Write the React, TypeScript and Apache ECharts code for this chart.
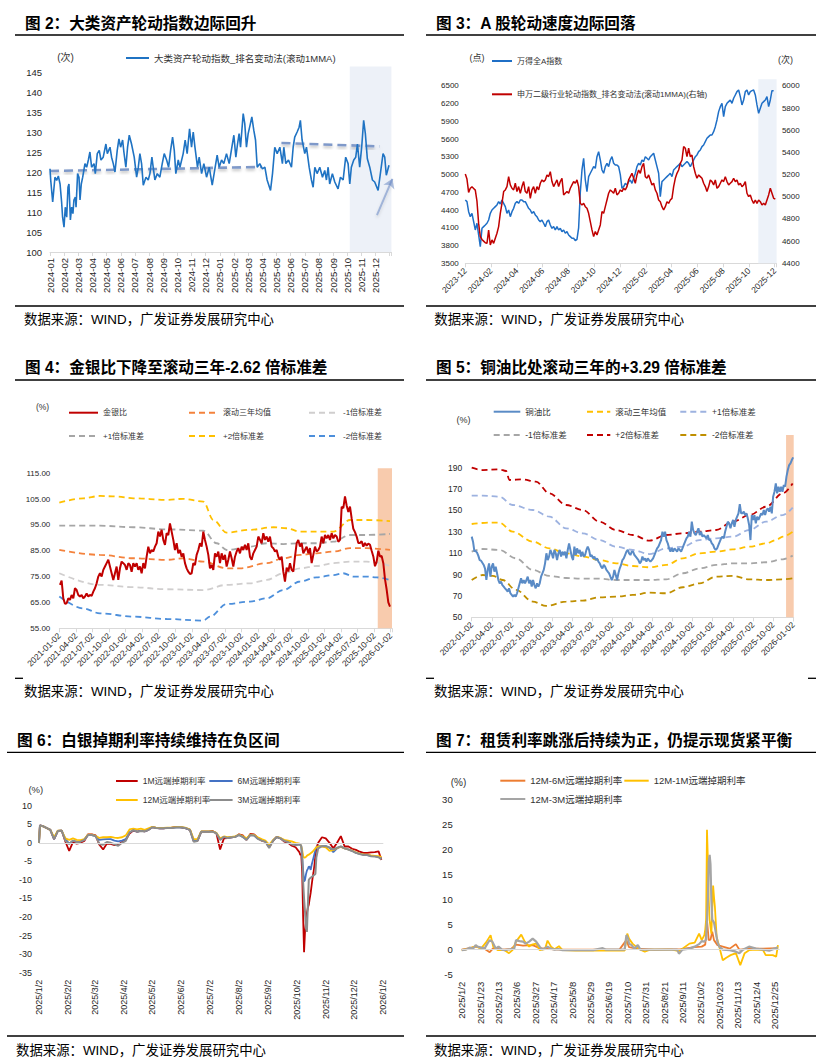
import React, { useEffect, useRef } from 'react';
import * as echarts from 'echarts';

const FONT = "'Liberation Sans', 'Noto Sans CJK SC', sans-serif";

// ---------------- 图2 大类资产轮动指数 ----------------
const P1_LABELS = ['2024-01','2024-02','2024-03','2024-04','2024-05','2024-06','2024-07','2024-08','2024-09','2024-10','2024-11','2024-12','2025-01','2025-02','2025-03','2025-04','2025-05','2025-06','2025-07','2025-08','2025-09','2025-10','2025-11','2025-12'];
const P1_NAME = '大类资产轮动指数_排名变动法(滚动1MMA)';
// [month index since 2024-01, value]
const P1_INDEX = [[0.00,120.8],[0.05,118.0],[0.19,112.5],[0.35,118.7],[0.47,117.9],[0.59,119.0],[0.71,117.0],[0.82,112.5],[0.89,108.7],[0.99,106.2],[1.08,111.2],[1.18,108.7],[1.27,116.2],[1.34,117.0],[1.44,108.0],[1.53,111.2],[1.62,109.6],[1.69,113.0],[1.79,113.7],[1.84,111.2],[1.95,119.6],[2.05,118.7],[2.12,113.0],[2.21,117.0],[2.31,118.7],[2.47,122.1],[2.59,121.2],[2.71,123.0],[2.82,125.0],[2.94,121.2],[3.11,122.1],[3.20,119.6],[3.34,124.6],[3.48,125.4],[3.60,123.0],[3.76,123.7],[3.95,127.0],[4.05,124.6],[4.24,126.2],[4.35,123.7],[4.47,122.1],[4.59,120.0],[4.75,125.4],[4.87,128.3],[4.99,126.2],[5.13,128.0],[5.22,125.0],[5.36,121.2],[5.48,126.2],[5.60,129.2],[5.76,127.0],[5.95,123.7],[6.12,118.7],[6.24,121.2],[6.35,124.6],[6.47,122.1],[6.59,116.7],[6.78,118.7],[6.94,118.0],[7.06,119.6],[7.20,123.7],[7.29,121.2],[7.41,118.0],[7.58,119.6],[7.76,118.7],[7.93,122.1],[8.07,124.6],[8.24,123.0],[8.38,121.2],[8.52,125.4],[8.66,128.7],[8.78,125.4],[8.89,119.6],[9.06,123.0],[9.18,121.2],[9.41,124.6],[9.55,128.0],[9.69,124.6],[9.86,130.8],[10.00,126.2],[10.12,130.0],[10.24,126.2],[10.42,121.2],[10.54,123.7],[10.71,119.6],[10.87,122.1],[11.06,118.7],[11.25,121.2],[11.46,116.7],[11.65,120.8],[11.81,124.2],[11.95,121.2],[12.12,123.0],[12.28,122.1],[12.47,124.6],[12.66,122.1],[12.85,126.2],[12.99,129.2],[13.13,123.7],[13.25,127.0],[13.36,129.6],[13.46,126.2],[13.65,134.6],[13.76,132.1],[13.88,126.2],[14.00,129.6],[14.16,132.1],[14.26,133.8],[14.40,130.4],[14.52,128.0],[14.64,121.2],[14.82,122.1],[15.01,120.8],[15.18,121.2],[15.34,118.0],[15.58,115.4],[15.72,119.6],[15.88,126.2],[16.05,124.6],[16.24,126.2],[16.42,122.1],[16.52,126.2],[16.66,122.1],[16.85,123.0],[17.06,121.2],[17.18,126.2],[17.29,128.7],[17.46,130.0],[17.60,131.2],[17.69,132.9],[17.81,128.0],[18.00,124.6],[18.12,126.2],[18.31,121.2],[18.47,118.0],[18.59,116.2],[18.71,121.2],[18.87,119.6],[19.06,121.2],[19.25,118.7],[19.41,120.4],[19.53,118.0],[19.65,121.2],[19.76,117.0],[19.95,119.6],[20.12,117.5],[20.35,115.8],[20.52,118.7],[20.71,118.0],[20.89,123.7],[21.06,122.1],[21.18,117.0],[21.29,121.2],[21.46,123.0],[21.60,123.7],[21.72,127.0],[21.88,121.2],[22.02,126.2],[22.16,132.9],[22.28,129.6],[22.42,123.3],[22.59,121.2],[22.78,118.0],[22.94,117.5],[23.18,115.4],[23.34,119.6],[23.53,124.6],[23.65,123.7],[23.76,119.2],[23.95,121.7]];
const P1_TREND_EARLY = [[0, 120.25], [14.94, 121.25]];
const P1_TREND_LATE = [[16.35, 127.25], [23.29, 126.4]];
const P1_ARROW = [[23.1, 109.2], [24.19, 118.3]];
const P1_HIGHLIGHT = [21.18, 24.12];

// ---------------- 图3 A股轮动速度 ----------------
const P2_LABELS = ['2023-12','2024-02','2024-04','2024-06','2024-08','2024-10','2024-12','2025-02','2025-04','2025-06','2025-08','2025-10','2025-12'];
const P2_STEP = 0.1293; // months between samples (about 4 days)
const P2_WIND_NAME = '万得全A指数';
const P2_ROT_NAME = '申万二级行业轮动指数_排名变动法(滚动1MMA)(右轴)';
const P2_WIND = [4571,4543,4374,4289,4346,4205,4064,4177,3979,3782,4092,4120,4148,4177,4233,4346,4402,4430,4459,4487,4543,4504,4571,4515,4459,4346,4402,4289,4374,4430,4515,4543,4515,4571,4571,4543,4543,4487,4430,4402,4346,4374,4318,4289,4233,4205,4233,4177,4120,4205,4233,4148,4092,4120,4064,4120,4064,4092,4036,4064,4008,4036,3979,3951,3923,3923,3883,3906,4100,4700,5079,5276,4910,4712,4966,5023,5079,5136,5107,5304,5389,5248,5079,5023,5136,5192,5136,5248,5304,5192,5164,5164,5136,5000,4769,4797,4853,4825,4882,4910,4853,4938,5023,5136,5192,5164,5248,5220,5304,5276,5248,5304,5333,5361,5248,5136,5023,4628,4882,4910,4938,4966,4994,5023,4966,5079,5107,5136,5164,5192,5136,5164,5192,5220,5192,5136,5192,5248,5304,5333,5389,5417,5474,5502,5558,5615,5643,5671,5671,5727,5812,5925,6066,6150,6207,5981,6150,6207,6235,6263,6207,6292,6348,6404,6432,6320,6179,6263,6404,6432,6348,6404,6421,6432,6348,6179,6038,6122,6207,6235,6263,6320,6150,6263,6421,6421];
const P2_ROT = [5206,5160,5040,5077,5090,5075,5060,4960,4760,4640,4615,4600,4585,4580,4700,4565,4611,4580,4626,4671,4731,4851,4941,5047,5062,5092,5182,5107,5077,5062,5122,5047,5092,5032,5092,5137,5047,5032,5092,4986,5062,5092,5032,5092,5062,5122,5152,5137,5152,5197,5182,5227,5137,5092,5122,5152,5092,5137,5167,5017,5032,5047,5032,5077,5107,5137,5122,5152,5092,4941,4926,4941,4911,4896,4851,4776,4701,4641,4686,4656,4701,4746,4866,4851,4911,4971,5032,5062,5047,5032,5077,5017,5032,5062,5047,5077,5062,5092,5152,5182,5212,5167,5122,5197,5242,5212,5272,5302,5182,5167,5197,5152,5107,5122,5062,5032,4971,4956,4911,4881,4911,4956,4941,4971,4986,5092,5167,5212,5242,5302,5332,5453,5438,5362,5438,5362,5377,5272,5212,5167,5197,5182,5167,5122,5092,5047,5092,5152,5137,5107,5152,5077,5092,5122,5152,5137,5182,5137,5107,5122,5137,5167,5137,5152,5107,5122,5092,5107,5137,5032,5002,5017,4971,4941,4971,4941,4971,4956,4926,4941,4926,4971,5017,5077,5032,4986,4980];
const P2_HIGHLIGHT = [22.73, 24.15];

// ---------------- 图4 金银比 ----------------
const P3_LABELS = ['2021-01-02','2021-04-02','2021-07-02','2021-10-02','2022-01-02','2022-04-02','2022-07-02','2022-10-02','2023-01-02','2023-04-02','2023-07-02','2023-10-02','2024-01-02','2024-04-02','2024-07-02','2024-10-02','2025-01-02','2025-04-02','2025-07-02','2025-10-02','2026-01-02'];
const P3_X0 = 0.04;
const P3_STEP = 0.1006; // quarters between samples
const P3_RATIO = [71.8,73.5,66.6,64.5,64.7,66.6,66.0,67.9,66.6,70.5,69.8,67.9,67.3,67.9,66.6,67.3,68.5,67.3,67.9,67.5,69.2,70.5,72.4,75.0,76.3,75.0,77.6,78.9,80.2,81.5,78.9,76.3,73.7,76.3,78.9,73.7,78.2,80.8,80.2,79.5,77.6,80.2,79.5,76.9,80.2,78.9,80.2,77.6,78.9,76.3,80.2,78.2,82.7,86.6,84.0,85.3,84.7,86.6,87.9,92.4,90.5,93.1,89.2,87.3,91.8,91.1,95.6,92.4,89.2,85.3,87.9,84.0,85.3,82.7,84.0,80.2,78.2,76.9,76.0,76.3,80.2,79.5,83.4,85.3,87.9,86.6,92.4,89.2,86.6,83.4,78.2,79.5,77.6,84.0,82.7,84.7,80.2,84.0,81.5,83.4,78.9,81.5,84.7,82.1,78.9,82.7,84.7,86.0,84.0,86.6,85.3,87.3,85.3,87.9,82.7,81.5,84.0,85.3,86.6,90.5,89.2,87.9,91.8,89.2,90.5,88.5,90.5,86.6,86.0,84.7,85.3,82.7,81.5,82.7,76.9,73.1,78.5,77.0,80.2,77.6,76.9,82.7,87.9,89.2,86.6,87.9,84.0,85.3,86.6,84.0,86.0,80.2,83.4,86.6,84.7,85.3,86.6,90.5,87.9,91.1,89.8,91.1,89.2,91.8,89.8,91.1,90.5,88.5,89.2,102.0,101.5,106.0,102.5,100.0,102.1,97.5,93.5,92.2,90.5,88.0,88.0,88.7,86.6,88.0,87.0,87.8,87.3,85.0,82.8,79.0,80.8,85.0,82.8,83.0,80.2,74.0,70.0,65.0,63.4];
const P3_MEAN = [[0,85.3],[2.45,83.4],[4.47,82.1],[6.48,81.5],[7.48,82.1],[8.69,80.8],[10.10,78.2],[10.91,78.2],[12.52,80.2],[13.52,82.1],[14.53,83.4],[15.53,84.0],[16.54,84.7],[17.55,86.0],[18.55,86.0],[19.96,85.3]];
const P3_MINUS1 = [[0,76.3],[2.45,71.8],[4.47,70.9],[6.48,70.1],[8.69,69.8],[10.10,71.8],[11.51,72.4],[12.52,73.7],[13.52,76.3],[14.53,78.2],[15.53,79.1],[16.54,80.2],[17.55,80.8],[18.55,80.8],[19.15,80.4],[19.96,79.1]];
const P3_PLUS1 = [[0,94.7],[2.45,94.7],[4.47,94.1],[6.48,93.3],[8.69,92.8],[9.50,87.9],[10.10,85.3],[11.51,86.6],[12.52,87.9],[13.52,87.6],[14.53,87.9],[15.53,87.9],[16.54,88.5],[17.55,91.1],[18.55,91.1],[19.96,91.5]];
const P3_PLUS2 = [[0,103.6],[1.45,105.3],[2.45,106.2],[3.46,106.0],[4.47,105.3],[6.48,104.7],[7.48,105.1],[8.69,104.0],[9.30,96.9],[10.10,92.0],[11.51,93.1],[12.92,94.1],[13.72,93.7],[14.53,92.4],[16.54,92.4],[17.55,96.9],[18.55,96.9],[19.96,96.5]];
const P3_MINUS2 = [[0,67.3],[1.45,62.7],[2.45,60.8],[4.47,59.5],[6.48,58.6],[8.69,58.0],[9.09,59.5],[10.10,64.4],[11.51,65.3],[12.52,66.6],[13.52,69.8],[14.53,73.1],[15.53,74.7],[16.54,75.6],[17.14,76.3],[17.75,75.0],[18.55,75.0],[19.15,74.7],[19.96,73.7]];
const P3_HIGHLIGHT = [19.22, 20.08];

// ---------------- 图5 铜油比 ----------------
const P4_LABELS = ['2022-01-02','2022-04-02','2022-07-02','2022-10-02','2023-01-02','2023-04-02','2023-07-02','2023-10-02','2024-01-02','2024-04-02','2024-07-02','2024-10-02','2025-01-02','2025-04-02','2025-07-02','2025-10-02','2026-01-02'];
const P4_STEP = 0.0664; // quarters between samples
const P4_RATIO = [125.5,120.8,112.0,112.0,110.5,107.5,103.5,103.0,101.0,99.0,95.5,85.0,94.3,100.5,88.0,97.4,100.5,92.7,97.4,91.2,84.9,81.8,83.4,80.2,78.7,77.1,75.6,74.0,77.1,72.5,70.9,69.3,70.9,69.3,72.5,77.1,81.8,86.5,81.8,84.9,81.8,84.9,88.0,81.8,84.9,78.7,84.9,80.2,77.1,81.8,78.7,81.8,88.0,91.2,94.3,100.5,109.9,103.6,106.8,113.0,109.9,105.2,113.0,109.9,103.6,109.9,113.0,106.8,111.4,108.3,111.4,105.2,113.0,119.2,113.0,106.8,103.6,116.1,108.3,114.5,109.9,113.0,106.8,111.4,106.8,108.3,113.0,116.1,113.0,106.8,108.3,105.2,106.8,103.6,105.2,102.1,100.5,97.4,95.8,99.0,97.4,94.3,92.7,91.2,88.0,84.9,88.0,94.3,89.6,84.9,91.2,95.8,99.0,103.6,105.2,108.3,111.4,113.0,109.9,108.3,111.4,111.4,108.3,106.8,105.2,103.6,100.5,102.1,106.8,103.6,105.2,102.1,105.2,103.6,102.1,103.6,105.2,108.3,111.4,114.5,116.1,119.2,122.3,130.1,125.5,130.1,122.3,119.2,114.5,111.4,114.5,111.4,114.5,113.0,111.4,114.5,113.0,111.4,114.5,117.7,120.8,123.9,125.5,130.1,125.5,139.5,131.7,128.6,127.0,130.1,133.3,127.0,130.1,125.5,127.0,125.5,123.9,127.0,122.3,122.3,119.2,117.7,114.5,113.0,114.5,117.7,120.8,123.9,125.5,123.9,130.1,134.8,139.5,137.9,133.3,137.9,141.1,134.8,141.1,144.2,147.3,156.0,147.3,147.3,148.8,145.7,147.3,142.6,136.4,122.3,145.7,141.1,145.7,137.9,144.2,141.1,144.2,147.3,145.7,150.4,145.7,150.4,152.0,148.8,153.5,147.3,162.9,167.5,175.3,166.0,172.2,167.5,172.2,167.5,173.8,172.2,181.6,187.8,192.5,194.1,197.2,199.7];
const P4_MEAN = [[0,137.3],[0.88,138.6],[1.38,138.6],[2.04,130.1],[3.04,120.8],[3.87,114.5],[4.70,109.9],[5.53,106.8],[6.36,103.6],[7.19,100.5],[8.02,98.0],[8.85,96.8],[9.68,99.0],[10.51,105.2],[11.34,109.9],[12.17,111.4],[13.00,113.6],[13.83,116.1],[14.66,119.2],[15.15,122.3],[15.49,125.5],[15.98,130.1]];
const P4_PLUS1 = [[0,163.8],[0.55,163.8],[1.38,162.9],[2.04,155.1],[3.04,150.4],[3.87,144.2],[4.70,133.3],[5.53,128.6],[6.36,122.3],[7.19,116.1],[8.02,113.0],[8.85,109.2],[9.68,114.5],[10.51,116.1],[11.34,122.3],[12.17,123.9],[13.00,125.5],[13.83,131.7],[14.66,139.5],[15.49,145.7],[15.98,152.6]];
const P4_MINUS1 = [[0,111.4],[0.55,113.9],[1.38,113.0],[2.21,105.2],[3.04,94.3],[3.87,88.7],[4.70,86.8],[5.53,86.2],[6.36,86.2],[7.19,84.9],[8.02,84.9],[8.85,84.9],[9.68,85.5],[10.51,91.2],[11.34,95.8],[12.17,99.0],[13.00,100.5],[13.83,100.5],[14.66,101.5],[15.49,104.3],[15.98,107.7]];
const P4_PLUS2 = [[0,190.0],[0.55,187.8],[1.38,188.4],[1.71,186.9],[1.88,178.5],[2.54,179.1],[3.20,176.9],[3.87,166.0],[4.70,155.1],[5.53,150.4],[6.36,139.5],[7.19,131.7],[8.02,127.0],[8.85,121.7],[9.68,127.0],[10.51,128.6],[11.34,130.1],[12.17,131.7],[13.00,139.5],[13.83,145.7],[14.66,153.5],[15.49,166.0],[15.98,175.3]];
const P4_MINUS2 = [[0,84.9],[0.55,89.6],[1.05,88.7],[1.54,84.9],[2.21,75.6],[3.04,64.7],[3.70,60.6],[4.70,64.7],[5.53,65.6],[6.36,68.7],[7.19,69.3],[8.02,70.9],[8.85,73.1],[9.68,72.5],[10.51,78.1],[11.34,81.8],[12.17,88.0],[13.00,88.7],[13.83,85.5],[14.66,84.9],[15.49,85.5],[15.98,86.5]];
const P4_HIGHLIGHT = [15.65, 16.03];

// ---------------- 图6 白银掉期利率 ----------------
const P5_TICK_DAYS = [0,31,59,90,120,151,181,212,243,273,304,334,365];
const P5_LABELS = ['2025/1/2','2025/2/2','2025/3/2','2025/4/2','2025/5/2','2025/6/2','2025/7/2','2025/8/2','2025/9/2','2025/10/2','2025/11/2','2025/12/2','2026/1/2'];
const P5_DAYS = [0,1,4,8,12,16,20,24,28,32,36,40,44,48,52,56,60,64,68,72,76,80,84,88,92,96,100,104,108,112,116,120,124,128,132,136,140,144,148,152,156,160,164,168,172,176,180,184,188,192,196,200,204,208,212,216,220,224,228,232,236,240,244,248,252,256,260,264,268,272,276,277,278,279,280,281,282,283,284,285,286,287,288,289,290,291,292,293,294,296,300,304,308,312,316,320,324,328,332,336,340,344,348,352,356,360,363];
const P5_1M = [0.0,4.7,4.5,4.0,3.5,1.0,3.2,3.3,0.3,-2.2,0.2,-0.2,0.0,0.5,2.3,2.3,2.0,-0.5,-1.8,-0.2,-0.3,-0.6,-0.5,0.2,0.8,2.5,3.3,3.0,3.2,3.1,3.5,4.2,4.0,3.9,3.9,4.0,4.0,4.2,4.3,4.1,3.9,3.5,0.5,0.5,3.0,3.0,3.0,3.2,2.6,-1.8,1.2,1.3,1.5,1.6,2.3,2.0,0.8,2.4,2.3,1.3,0.6,0.3,-1.2,0.5,1.6,1.2,0.3,0.0,-0.8,-1.2,-2.5,-3.3,-3.0,-8.0,-20.0,-29.5,-24.0,-21.5,-19.0,-17.5,-16.7,-15.0,-13.5,-11.5,-9.5,-8.0,-6.0,-3.5,-1.5,0.0,1.5,1.2,0.0,-1.5,0.0,1.8,-1.0,-1.0,-1.6,-1.9,-2.4,-2.7,-2.7,-2.6,-2.5,-2.3,-4.6];
const P5_6M = [0.0,4.7,4.5,4.0,3.5,1.0,3.2,3.3,1.0,-0.2,0.5,0.3,0.4,0.8,2.1,2.1,1.8,0.8,0.9,1.0,1.0,0.6,0.4,0.6,1.0,2.8,3.4,3.0,3.2,3.1,3.5,4.2,4.0,3.9,3.9,4.0,4.0,4.1,4.2,4.1,3.9,3.5,0.5,0.6,3.0,3.0,3.0,3.0,2.6,0.9,1.6,1.3,1.5,1.6,2.1,1.6,0.9,2.1,2.0,1.1,0.8,0.4,-1.0,0.6,1.5,1.2,0.6,0.3,-0.3,-0.5,-0.4,-0.5,-1.0,-4.0,-7.5,-10.4,-10.0,-8.5,-7.5,-7.0,-6.4,-6.5,-7.3,-6.0,-5.0,-4.0,-3.0,-2.0,-1.2,-0.9,-0.9,-0.9,-1.3,-2.5,-1.5,-1.0,-1.5,-1.8,-2.2,-2.7,-3.0,-3.2,-3.3,-3.5,-3.6,-3.8,-4.2];
const P5_12M = [0.0,4.6,4.5,4.0,3.5,1.5,3.3,3.3,1.2,0.8,1.2,0.8,0.7,1.0,2.2,2.2,1.9,1.3,1.5,1.5,1.6,1.4,1.3,1.5,2.0,3.6,3.8,3.6,3.8,3.5,3.9,4.3,4.1,4.0,4.0,4.1,4.1,4.2,4.3,4.2,4.0,3.6,1.0,1.0,3.1,3.1,3.1,3.1,2.7,1.2,1.7,1.5,1.6,1.7,2.2,1.8,1.2,2.2,2.1,1.5,1.0,0.6,-0.5,0.7,1.6,1.3,0.8,0.6,0.4,0.0,-0.2,-0.4,-1.0,-2.0,-3.5,-4.0,-4.0,-3.8,-3.5,-3.3,-3.2,-3.0,-2.8,-2.6,-2.4,-2.1,-1.8,-1.5,-1.2,-1.0,-1.0,-1.2,-2.2,-2.0,-1.4,-1.1,-1.5,-1.8,-2.1,-2.6,-2.9,-3.1,-3.2,-3.4,-3.5,-3.6,-3.8];
const P5_3M = [0.0,4.7,4.5,4.0,3.5,1.0,3.2,3.3,0.5,-0.3,0.6,0.2,0.3,0.8,2.1,2.1,1.8,-0.3,-0.5,0.2,0.0,-0.4,-0.8,0.0,0.5,2.8,3.4,3.0,3.2,3.1,3.5,4.2,4.0,3.9,3.9,4.0,4.0,4.1,4.2,4.1,3.9,3.5,0.3,0.5,3.0,3.0,3.0,3.0,2.6,0.8,1.6,1.3,1.5,1.6,2.1,1.6,0.8,2.1,2.0,1.1,0.6,0.3,-1.4,0.5,1.6,1.2,0.5,0.2,-0.4,-0.7,-0.4,-0.5,-0.8,-3.0,-10.5,-15.0,-18.5,-23.0,-24.0,-17.0,-10.0,-9.6,-9.4,-9.2,-9.0,-8.8,-8.6,-8.4,-4.0,-1.5,-0.9,-0.9,-1.3,-1.8,-1.3,-1.0,-1.5,-1.8,-2.2,-2.7,-3.0,-3.3,-3.3,-3.6,-3.7,-3.9,-4.5];

// ---------------- 图7 租赁利率 ----------------
const P6_LABELS = ['2025/1/2','2025/1/23','2025/2/13','2025/3/6','2025/3/27','2025/4/17','2025/5/8','2025/5/29','2025/6/19','2025/7/10','2025/7/31','2025/8/21','2025/9/11','2025/10/2','2025/10/23','2025/11/13','2025/12/4','2025/12/25'];
// [days since 2025/1/2, value]
const P6_12M6M = [[0,0.0],[9,0.3],[16,0.6],[26,0.2],[32,-0.5],[36,0.3],[46,0.0],[56,0.1],[62,1.0],[70,0.8],[81,0.9],[89,0.3],[100,0.1],[115,0.0],[150,0.0],[180,0.0],[188,1.9],[191,0.5],[200,0.2],[220,0.0],[250,0.1],[266,0.5],[274,0.6],[278,1.0],[279,3.2],[280,5.9],[282,1.9],[284,2.0],[286,3.6],[288,1.9],[292,0.9],[298,0.6],[306,0.2],[313,1.1],[317,0.0],[330,0.2],[344,0.2],[361,0.3]];
const P6_12M1M = [[0,-0.1],[9,0.2],[16,0.7],[22,0.2],[28,1.5],[33,2.9],[36,0.6],[41,-0.1],[49,-0.1],[54,-0.7],[58,-0.1],[62,1.6],[68,3.0],[72,1.6],[77,0.6],[80,1.0],[85,1.2],[89,-0.1],[95,0.1],[98,1.8],[102,0.6],[106,0.1],[111,0.7],[115,-0.1],[130,-0.2],[150,-0.2],[170,-0.2],[186,-0.2],[189,3.2],[191,2.2],[195,1.2],[199,0.6],[204,0.0],[209,-0.4],[215,0.0],[240,0.0],[248,-0.3],[260,1.2],[266,1.4],[271,3.2],[274,1.9],[277,2.9],[278,4.0],[279,6.0],[280,23.9],[281,18.0],[282,10.0],[283,5.9],[285,3.2],[286,8.0],[287,12.8],[288,10.5],[289,8.6],[291,2.6],[294,0.6],[298,-2.1],[302,-1.6],[307,-1.1],[313,-0.7],[318,-3.1],[323,-0.7],[328,-0.1],[336,0.0],[344,-0.1],[347,-1.1],[355,-1.1],[359,-1.4],[361,0.9]];
const P6_12M3M = [[0,-0.1],[5,0.0],[9,0.4],[13,0.2],[16,0.9],[18,0.6],[22,0.4],[26,0.2],[30,1.4],[32,1.9],[35,1.6],[39,0.2],[42,0.6],[46,0.0],[49,-0.1],[52,0.0],[56,0.1],[60,0.2],[62,1.9],[66,1.7],[70,1.6],[73,1.2],[77,1.6],[81,2.2],[85,1.6],[89,0.6],[92,0.0],[98,0.6],[102,0.2],[106,0.0],[110,0.1],[115,-0.1],[130,-0.1],[150,-0.1],[161,0.3],[165,0.0],[186,0.0],[188,2.9],[190,2.2],[191,1.2],[194,0.9],[197,0.2],[201,0.9],[204,0.0],[220,0.0],[246,0.0],[248,-0.8],[252,0.0],[260,0.2],[266,0.6],[271,1.1],[274,1.7],[277,1.6],[279,2.0],[281,10.0],[282,17.5],[283,18.9],[284,17.0],[285,10.0],[286,6.0],[288,5.4],[290,3.5],[292,1.5],[294,0.6],[298,0.0],[306,-0.1],[313,-0.4],[317,-0.7],[321,0.0],[328,0.6],[336,0.2],[344,0.0],[351,-0.2],[357,0.2],[361,0.5]];

// ---------------- helpers ----------------
const LABEL_COLOR = '#262626';

function idxFormatter(labels: string[], step: number) {
  return (v: number) => {
    const i = Math.round(v / step);
    return Math.abs(v - i * step) < 1e-6 && labels[i] !== undefined ? labels[i] : '';
  };
}

function xAxisIdx(gi: number, max: number, interval: number, labels: string[], rotate: number, fs: number, margin: number, showLine = true) {
  return {
    type: 'value', gridIndex: gi, min: 0, max, interval,
    axisLine: { show: showLine, onZero: false, lineStyle: { color: '#d9d9d9', width: 1 } },
    axisTick: { show: showLine, length: 4, lineStyle: { color: '#d9d9d9' } },
    splitLine: { show: false },
    axisLabel: { rotate, fontSize: fs, color: LABEL_COLOR, fontFamily: FONT, margin, formatter: idxFormatter(labels, interval) },
  };
}

function yAxisV(gi: number, min: number, max: number, interval: number, fs: number, margin: number, labelMax: number, fmt?: (v: number) => string, position = 'left') {
  return {
    type: 'value', gridIndex: gi, position, min, max, interval,
    axisLine: { show: false }, axisTick: { show: false }, splitLine: { show: false },
    axisLabel: {
      fontSize: fs, color: LABEL_COLOR, fontFamily: FONT, margin,
      formatter: (v: number) => (v > labelMax + 1e-9 ? '' : fmt ? fmt(v) : String(v)),
    },
  };
}

function solid(name: string, data: any[], color: string, width: number, xi: number, yi: number, z = 3) {
  return { name, type: 'line', xAxisIndex: xi, yAxisIndex: yi, data, symbol: 'none', showSymbol: false, silent: true, z,
    lineStyle: { color, width }, itemStyle: { color } };
}

function dashed(name: string, data: any[], color: string, xi: number, yi: number) {
  return { name, type: 'line', xAxisIndex: xi, yAxisIndex: yi, data, symbol: 'none', showSymbol: false, silent: true, z: 2,
    smooth: 0.35, smoothMonotone: 'x', lineStyle: { color, width: 1.8, type: [6, 4] }, itemStyle: { color } };
}

function shade(xi: number, yi: number, range: number[], color: string) {
  return { type: 'line', xAxisIndex: xi, yAxisIndex: yi, data: [], z: 1, silent: true,
    markArea: { silent: true, itemStyle: { color }, data: [[{ xAxis: range[0] }, { xAxis: range[1] }]] } };
}

function zeroLine(xi: number, yi: number) {
  return { type: 'line', xAxisIndex: xi, yAxisIndex: yi, data: [], z: 1, silent: true,
    markLine: { silent: true, symbol: ['none', 'none'], label: { show: false }, lineStyle: { color: '#d9d9d9', width: 1, type: 'solid' }, data: [{ yAxis: 0 }] } };
}

function leg(name: string, left: number, cy: number, w: number, fs: number, color?: string) {
  const item: any = color ? { name, lineStyle: { color }, itemStyle: { color } } : name;
  return { show: true, left, top: cy - 6, padding: 0, itemWidth: w, itemHeight: 12, selectedMode: false,
    itemStyle: { opacity: 0, borderWidth: 0 },
    data: [item], textStyle: { fontSize: fs, color: '#333', fontFamily: FONT, lineHeight: 12 } };
}

function txt(x: number, y: number, text: string, fontSize: number, bold = false, align = 'left', color = '#000') {
  return { type: 'text', silent: true, x, y,
    style: { text, fontSize, fontFamily: FONT, fontWeight: bold ? 'bold' : 'normal', fill: color,
      textAlign: align, align, textVerticalAlign: 'middle', verticalAlign: 'middle' } };
}

function rule(x1: number, y1: number, x2: number, y2: number, w = 1.3) {
  return { type: 'line', silent: true, shape: { x1, y1, x2, y2 }, style: { stroke: '#000', lineWidth: w } };
}

const SOURCE = '数据来源：WIND，广发证券发展研究中心';
const TITLE_FS = 15.6;
const SOURCE_FS = 13.4;

function buildOption(): any {
  const p2w = P2_WIND.map((v, i) => [i * P2_STEP, v]);
  const p2r = P2_ROT.map((v, i) => [i * P2_STEP, v]);
  const p3 = P3_RATIO.map((v, i) => [P3_X0 + i * P3_STEP, v]);
  const p4 = P4_RATIO.map((v, i) => [i * P4_STEP, v]);
  const p5 = (arr: number[]) => arr.map((v, i) => [P5_DAYS[i], v]);

  const trendStyle = { color: '#7f99c9', width: 2.6, type: [9, 5], shadowColor: 'rgba(0,0,0,0.25)', shadowBlur: 3, shadowOffsetY: 2 };

  return {
    animation: false,
    backgroundColor: '#ffffff',
    textStyle: { fontFamily: FONT },
    grid: [
      { left: 50, top: 66.4, width: 341.4, height: 185.6 },
      { left: 465.3, top: 79.3, width: 311.3, height: 184 },
      { left: 59.3, top: 468.3, width: 332.7, height: 160 },
      { left: 471.7, top: 435, width: 322, height: 182.3 },
      { left: 39, top: 805.7, width: 344.3, height: 167 },
      { left: 461.7, top: 799.3, width: 318, height: 175.4 },
    ],
    xAxis: [
      xAxisIdx(0, 24.12, 1, P1_LABELS, 90, 9.5, 6),
      xAxisIdx(1, 24.15, 2, P2_LABELS, 45, 8.5, 6),
      xAxisIdx(2, 20.08, 1, P3_LABELS, 45, 8.5, 6),
      xAxisIdx(3, 16.03, 1, P4_LABELS, 45, 8.5, 6),
      {
        type: 'value', gridIndex: 4, min: 0, max: 365,
        axisLine: { show: false, onZero: false }, axisTick: { show: false }, splitLine: { show: false },
        axisLabel: { rotate: 90, fontSize: 9, color: LABEL_COLOR, fontFamily: FONT, margin: 7, customValues: P5_TICK_DAYS,
          formatter: (v: number) => { const i = P5_TICK_DAYS.indexOf(v); return i >= 0 ? P5_LABELS[i] : ''; } },
      },
      xAxisIdx(5, 363, 21, P6_LABELS, 90, 9.5, 7, false),
    ],
    yAxis: [
      yAxisV(0, 100, 146.4, 5, 9.5, 8, 145),
      yAxisV(1, 3500, 6613, 300, 8, 6.5, 6500),
      yAxisV(1, 4400, 6060, 200, 8, 5.3, 6000, undefined, 'right'),
      yAxisV(2, 55, 116.9, 10, 8, 9, 115, (v) => v.toFixed(2)),
      yAxisV(3, 50, 220.6, 20, 8.5, 9.5, 190),
      yAxisV(4, -35, 10, 5, 9, 7, 10),
      yAxisV(5, -5, 30, 5, 9.5, 9, 30),
    ],
    legend: [
      leg(P1_NAME, 125, 58, 23, 9.5),
      leg(P2_WIND_NAME, 491, 61, 20, 8),
      leg(P2_ROT_NAME, 491, 94.3, 20, 8),
      leg('金银比', 68, 412.7, 29, 8),
      leg('滚动三年均值', 188, 412.7, 29, 8),
      leg('-1倍标准差', 308, 412.7, 29, 8),
      leg('+1倍标准差', 68, 436, 29, 8),
      leg('+2倍标准差', 188, 436, 29, 8),
      leg('-2倍标准差', 308, 436, 29, 8),
      leg('铜油比', 492.7, 411.7, 26.6, 8.5),
      leg('滚动三年均值', 586, 411.7, 23.3, 8.5, '#ffc000'),
      leg('+1倍标准差', 679.3, 411.7, 26.7, 8.5, '#9db2e0'),
      leg('-1倍标准差', 492.7, 435, 26.6, 8.5, '#a6a6a6'),
      leg('+2倍标准差', 586, 435, 23.3, 8.5, '#c00000'),
      leg('-2倍标准差', 679.3, 435, 26.7, 8.5, '#bf8f00'),
      leg('1M远端掉期利率', 115, 781, 21.7, 8.5),
      leg('6M远端掉期利率', 208.3, 781, 23.3, 8.5),
      leg('12M远端掉期利率', 115, 800, 21.7, 8.5),
      leg('3M远端掉期利率', 208.3, 800, 23.3, 8.5),
      leg('12M-6M远端掉期利率', 499.3, 780.7, 25, 9.5),
      leg('12M-1M远端掉期利率', 623.3, 780.7, 24.4, 9.5),
      leg('12M-3M远端掉期利率', 499.3, 799, 25, 9.5),
    ],
    series: [
      // panel 1
      shade(0, 0, P1_HIGHLIGHT, '#edf1f8'),
      { type: 'line', xAxisIndex: 0, yAxisIndex: 0, data: P1_TREND_EARLY, symbol: 'none', silent: true, z: 2, lineStyle: trendStyle },
      { type: 'line', xAxisIndex: 0, yAxisIndex: 0, data: P1_TREND_LATE, symbol: 'none', silent: true, z: 2, lineStyle: trendStyle },
      solid(P1_NAME, P1_INDEX, '#1f73c3', 1.6, 0, 0),
      { type: 'lines', coordinateSystem: 'cartesian2d', xAxisIndex: 0, yAxisIndex: 0, clip: false, silent: true, z: 4,
        symbol: ['none', 'arrow'], symbolSize: 9,
        lineStyle: { color: '#5d80bf', width: 2, curveness: 0, shadowColor: 'rgba(0,0,0,0.25)', shadowBlur: 3, shadowOffsetY: 2 },
        data: [{ coords: P1_ARROW }] },
      // panel 2
      shade(1, 1, P2_HIGHLIGHT, '#edf2f9'),
      solid(P2_WIND_NAME, p2w, '#1f6fc6', 1.5, 1, 1),
      solid(P2_ROT_NAME, p2r, '#c00000', 1.5, 1, 2),
      // panel 3
      shade(2, 3, P3_HIGHLIGHT, '#f8cbad'),
      dashed('滚动三年均值', P3_MEAN, '#f4823c', 2, 3),
      dashed('-1倍标准差', P3_MINUS1, '#d0cece', 2, 3),
      dashed('+1倍标准差', P3_PLUS1, '#a6a6a6', 2, 3),
      dashed('+2倍标准差', P3_PLUS2, '#ffc000', 2, 3),
      dashed('-2倍标准差', P3_MINUS2, '#4d8fdb', 2, 3),
      solid('金银比', p3, '#c00000', 2, 2, 3),
      // panel 4
      shade(3, 4, P4_HIGHLIGHT, '#f8cbad'),
      dashed('滚动三年均值', P4_MEAN, '#ffc000', 3, 4),
      dashed('+1倍标准差', P4_PLUS1, '#9db2e0', 3, 4),
      dashed('-1倍标准差', P4_MINUS1, '#a6a6a6', 3, 4),
      dashed('+2倍标准差', P4_PLUS2, '#c00000', 3, 4),
      dashed('-2倍标准差', P4_MINUS2, '#bf8f00', 3, 4),
      solid('铜油比', p4, '#5a8bc6', 2, 3, 4),
      // panel 5
      zeroLine(4, 5),
      solid('1M远端掉期利率', p5(P5_1M), '#c00000', 1.8, 4, 5),
      solid('6M远端掉期利率', p5(P5_6M), '#4472c4', 1.8, 4, 5),
      solid('12M远端掉期利率', p5(P5_12M), '#ffc000', 1.8, 4, 5),
      solid('3M远端掉期利率', p5(P5_3M), '#8c8c8c', 2, 4, 5),
      // panel 6
      zeroLine(5, 6),
      solid('12M-6M远端掉期利率', P6_12M6M, '#ed7d31', 1.8, 5, 6),
      solid('12M-1M远端掉期利率', P6_12M1M, '#ffc000', 1.8, 5, 6),
      solid('12M-3M远端掉期利率', P6_12M3M, '#a5a5a5', 2.2, 5, 6),
    ],
    graphic: [
      txt(25, 23, '图 2：大类资产轮动指数边际回升', TITLE_FS, true),
      txt(436, 23, '图 3：A 股轮动速度边际回落', TITLE_FS, true),
      txt(25, 367, '图 4：金银比下降至滚动三年-2.62 倍标准差', TITLE_FS, true),
      txt(436, 367, '图 5：铜油比处滚动三年的+3.29 倍标准差', TITLE_FS, true),
      txt(17, 740, '图 6：白银掉期利率持续维持在负区间', TITLE_FS, true),
      txt(436, 740, '图 7：租赁利率跳涨后持续为正，仍提示现货紧平衡', TITLE_FS, true),
      rule(15, 35, 404, 35), rule(426, 35, 816, 35),
      rule(15, 380, 404, 380), rule(426, 380, 816, 380),
      rule(7, 752.3, 404, 752.3), rule(426, 752.3, 816, 752.3),
      rule(15, 306, 404, 306), rule(426, 306, 816, 306),
      rule(15, 678.3, 23, 678.3), rule(426, 678.3, 434, 678.3), rule(808, 678.3, 816, 678.3),
      rule(7, 1036, 404, 1036), rule(426, 1036, 816, 1036),
      txt(24, 319.3, SOURCE, SOURCE_FS),
      txt(434.3, 319.3, SOURCE, SOURCE_FS),
      txt(24, 691.7, SOURCE, SOURCE_FS),
      txt(434, 691.7, SOURCE, SOURCE_FS),
      txt(16, 1050, SOURCE, SOURCE_FS),
      txt(434, 1050, SOURCE, SOURCE_FS),
      txt(65.5, 57, '(次)', 10, false, 'center', '#333'),
      txt(477, 58, '(点)', 9, false, 'center', '#333'),
      txt(785.5, 60, '(次)', 9, false, 'center', '#333'),
      txt(42.5, 407, '(%)', 8.5, false, 'center', '#333'),
      txt(463.5, 420, '(%)', 9, false, 'center', '#333'),
      txt(35.8, 789.3, '(%)', 9.5, false, 'center', '#333'),
      txt(458.5, 782.7, '(%)', 10, false, 'center', '#333'),
    ],
  };
}

export default function App() {
  const ref = useRef<HTMLDivElement>(null);
  useEffect(() => {
    if (!ref.current) return;
    const chart = echarts.init(ref.current, null, { renderer: 'svg' });
    chart.setOption(buildOption());
    return () => chart.dispose();
  }, []);
  return <div ref={ref} style={{ position: 'absolute', left: 0, top: 0, width: 836, height: 1063, background: '#fff' }} />;
}
